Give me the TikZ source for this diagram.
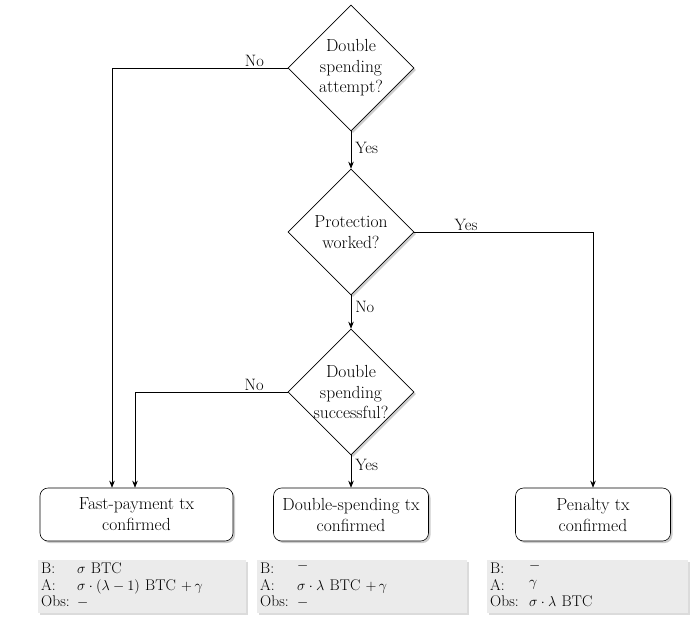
\documentclass[tikz,border=0pt]{standalone}
\usetikzlibrary{shapes.geometric,arrows.meta,shadows}
\begin{document}
\begin{tikzpicture}[x=1pt,y=-1pt,
  dia/.style={diamond,draw,fill=white,line width=0.6pt,minimum width=126pt,minimum height=126pt,inner sep=0pt,
    drop shadow={shadow xshift=2pt,shadow yshift=-2pt,fill=black!40}},
  dtxt/.style={align=center,font=\fontsize{17.5}{20.5}\selectfont},
  endbox/.style={draw,rounded corners=8pt,fill=white,line width=0.6pt,minimum height=53pt,align=center,
    font=\fontsize{17.5}{21}\selectfont,drop shadow={shadow xshift=2pt,shadow yshift=-2pt,fill=black!40}},
  info/.style={fill=black!8,minimum height=53pt,anchor=north west,inner xsep=3pt,inner ysep=0pt,
    font=\fontsize{15.5}{16.5}\selectfont,drop shadow={shadow xshift=2pt,shadow yshift=-2pt,fill=black!28}},
  arr/.style={-{Stealth[length=7pt,width=5.5pt]},line width=0.6pt},
  lbl/.style={font=\fontsize{16.5}{18}\selectfont,inner sep=1pt}
]
\useasboundingbox (0,0) rectangle (690,627);

% decisions
\node[dia] (d1) at (351,68) {};
\node[dtxt] (t1) at (d1) {Double\\spending\\attempt?};
\node[dia] (d2) at (351,232) {};
\node[dtxt] (t2) at (d2) {Protection\\worked?};
\node[dia] (d3) at (351,392) {};
\node[dtxt] (t3) at (d3) {Double\\spending\\successful?};

% outcomes
\node[endbox,minimum width=193pt] (e1) at (136.5,514.5) {Fast-payment tx\\confirmed};
\node[endbox,minimum width=155pt] (e2) at (351,514.5) {Double-spending tx\\confirmed};
\node[endbox,minimum width=155pt] (e3) at (593,514.5) {Penalty tx\\confirmed};

% turning points
\coordinate (c1) at (112,68);
\coordinate (c3) at (135,392);
\coordinate (c2) at (593,232);

% connectors
\draw[arr] (d1.south) -- node[lbl,right,pos=0.45,xshift=3pt] {Yes} (d2.north);
\draw[arr] (d2.south) -- node[lbl,right,pos=0.35,xshift=3pt] {No} (d3.north);
\draw[arr] (d3.south) -- node[lbl,right,pos=0.3,xshift=3pt] {Yes} (e2.north);
\draw[arr] (d1.west) -- node[lbl,above,pos=0.19] {No} (c1) -- (c1 |- e1.north);
\draw[arr] (d3.west) -- node[lbl,above,pos=0.22] {No} (c3) -- (c3 |- e1.north);
\draw[arr] (d2.east) -- node[lbl,above,pos=0.29] {Yes} (c2) -- (e3.north);

% info boxes
\node[info,minimum width=208pt,text width=202pt] (i1) at (38,560) {%
  \begin{tabular}{@{}p{36pt}@{}l@{}}
  \rule{0pt}{11.5pt}B: & $\sigma$ BTC\\
  A: & $\sigma\cdot(\lambda-1)$ BTC $+\,\gamma$\\
  Obs: & $-$
  \end{tabular}};
\node[info,minimum width=210pt,text width=204pt] (i2) at (257,560) {%
  \begin{tabular}{@{}p{37pt}@{}l@{}}
  \rule{0pt}{11.5pt}B: & \raisebox{4pt}{$-$}\\
  A: & $\sigma\cdot\lambda$ BTC $+\,\gamma$\\
  Obs: & $-$
  \end{tabular}};
\node[info,minimum width=201pt,text width=195pt] (i3) at (487,560) {%
  \begin{tabular}{@{}p{39pt}@{}l@{}}
  \rule{0pt}{11.5pt}B: & \raisebox{4pt}{$-$}\\
  A: & \raisebox{4pt}{$\gamma$}\\
  Obs: & $\sigma\cdot\lambda$ BTC
  \end{tabular}};
\end{tikzpicture}
\end{document}
